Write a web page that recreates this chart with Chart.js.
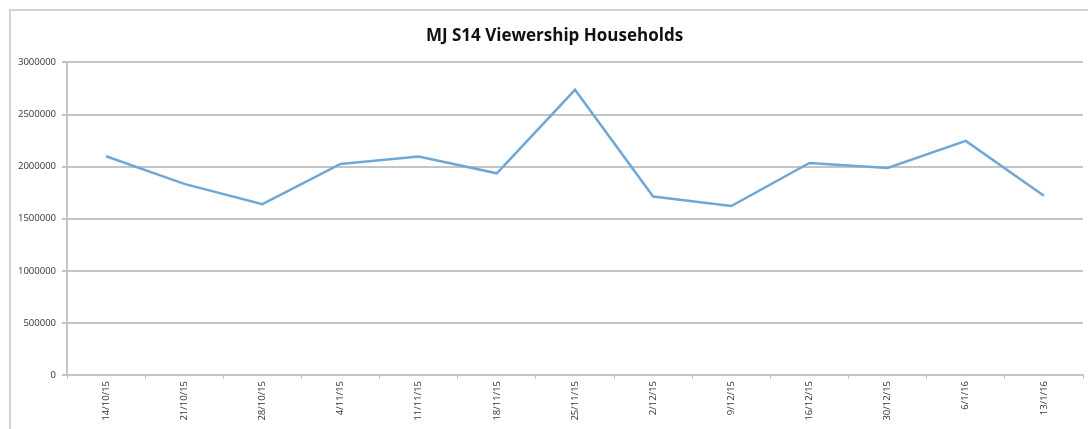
<!DOCTYPE html>
<html>
<head>
<meta charset="utf-8">
<script src="https://cdn.jsdelivr.net/npm/chart.js@4"></script>
<style>
  html, body { margin: 0; padding: 0; background: #fff; overflow: hidden; }
  #wrap { position: relative; width: 1088px; height: 429px; }
  #frame { position: absolute; left: 9px; top: 9px; width: 1200px; height: 600px; border: 2px solid #d2d2d2; }
  #grafico { position: absolute; left: 0; top: 0; }
</style>
</head>
<body>
<div id="wrap">
  <div id="frame"></div>
  <canvas id="grafico" width="1088" height="429"></canvas>
</div>
<script>
const semanas = ['14/10/15', '21/10/15', '28/10/15', '4/11/15', '11/11/15', '18/11/15', '25/11/15',
                 '2/12/15', '9/12/15', '16/12/15', '30/12/15', '6/1/16', '13/1/16'];
const hogares = [2099000, 1834000, 1639000, 2026000, 2096000, 1936000, 2737000,
                 1712000, 1622000, 2035000, 1987000, 2247000, 1721000];
const ticksY = [0, 500000, 1000000, 1500000, 2000000, 2500000, 3000000];

const fuente = "'Open Sans', 'Liberation Sans', sans-serif";

// el título va centrado sobre el marco, no sobre el canvas
const moverTitulo = {
    id: 'moverTitulo',
    afterLayout(chart) {
        const t = chart.titleBlock;
        if (t) { t.left += 13; t.right += 13; }
    }
};

document.addEventListener('DOMContentLoaded', function () {
    const ctx = document.getElementById('grafico').getContext('2d');
    new Chart(ctx, {
        type: 'line',
        data: {
            labels: semanas,
            datasets: [{
                label: 'Households',
                data: hogares,
                borderColor: '#6ea8d9',
                borderWidth: 2.5,
                pointRadius: 0,
                tension: 0,
                fill: false
            }]
        },
        options: {
            responsive: false,
            animation: { duration: 0 },
            layout: { padding: { left: 0, right: 5, top: 0, bottom: 0 } },
            scales: {
                x: {
                    offset: true,
                    grid: {
                        offset: true,
                        drawOnChartArea: false,
                        drawTicks: true,
                        tickLength: 4,
                        color: '#c4c4c4',
                        lineWidth: 1
                    },
                    border: { color: '#c4c4c4', width: 2 },
                    ticks: {
                        minRotation: 90,
                        maxRotation: 90,
                        autoSkip: false,
                        padding: 2,
                        color: '#333',
                        font: { family: fuente, size: 9.5 }
                    },
                    afterFit: function (scale) { scale.height = 54; }
                },
                y: {
                    min: 0,
                    max: 3000000,
                    afterBuildTicks: function (scale) {
                        scale.ticks = ticksY.map(v => ({ value: v }));
                    },
                    grid: {
                        color: '#c4c4c4',
                        lineWidth: 2,
                        tickLength: 5
                    },
                    border: { color: '#c4c4c4', width: 2 },
                    ticks: {
                        padding: 6,
                        color: '#333',
                        font: { family: fuente, size: 9.5 },
                        callback: v => String(v)
                    },
                    afterFit: function (scale) { scale.width = 67; }
                }
            },
            plugins: {
                legend: { display: false },
                tooltip: { enabled: false },
                title: {
                    display: true,
                    text: 'MJ S14 Viewership Households',
                    color: '#111',
                    font: { family: fuente, size: 17, weight: 'bold' },
                    padding: { top: 26, bottom: 16 }
                }
            }
        },
        plugins: [moverTitulo]
    });
});
</script>
</body>
</html>
